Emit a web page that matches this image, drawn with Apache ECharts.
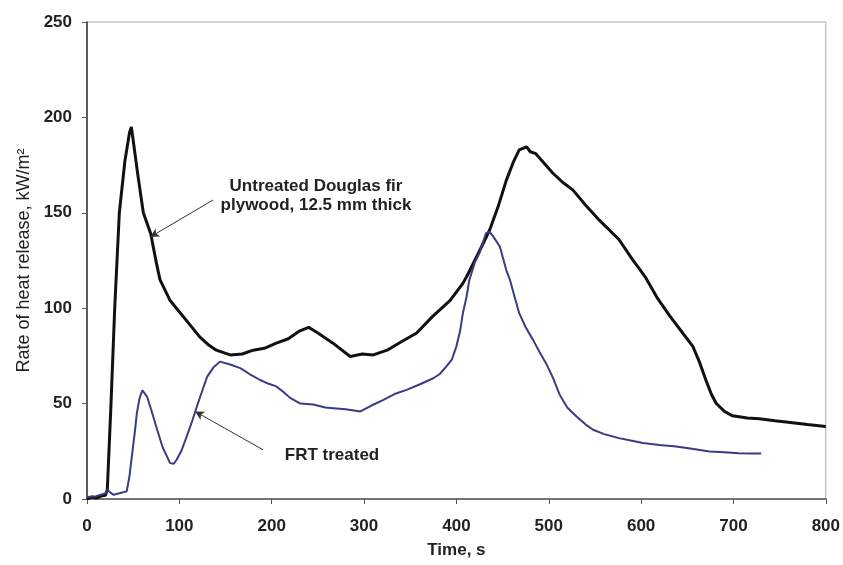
<!DOCTYPE html>
<html>
<head>
<meta charset="utf-8">
<script src="https://cdn.jsdelivr.net/npm/echarts@6/dist/echarts.min.js"></script>
<style>
  html, body { margin: 0; padding: 0; background: #fff; }
  #main { width: 843px; height: 565px; }
</style>
</head>
<body>
<div id="main"></div>
<script>
// Untreated Douglas fir plywood, 12.5 mm thick
var untreatedTime = [0, 5, 10, 15, 20, 22, 26, 30, 35, 41, 46, 48, 50, 55, 61, 69, 75, 79, 90, 101, 112, 122, 131, 140, 155, 168, 180, 192, 205, 218, 230, 240, 250, 266, 285, 298, 310, 325, 339, 357, 374, 393, 407, 411, 423, 436, 445, 454, 462, 468, 476, 480, 486, 495, 504, 515, 526, 540, 555, 576, 590, 605, 618, 631, 645, 656, 663, 670, 676, 681, 690, 699, 715, 728, 745, 764, 780, 800];
var untreatedHrr = [0, 1, 0.5, 1.5, 2, 5, 50, 100, 150, 177, 192, 195, 188, 170, 150, 139, 124, 115, 104, 97.5, 91, 85, 81, 78, 75.5, 76, 78, 79, 81.7, 84, 88, 90, 87, 81.8, 74.7, 76, 75.5, 78, 82, 87, 95.6, 104, 113, 116.5, 128, 141, 153, 167, 177, 183, 184.6, 182, 181, 176, 171, 166, 162, 154, 146, 136, 126, 116, 105, 96, 87, 80, 72, 62.5, 55, 50.3, 46, 43.6, 42.5, 42, 41, 40, 39, 38];

// FRT treated
var frtTime = [0, 10, 20, 22, 25, 29, 35, 43, 46, 49, 52, 54, 57, 60, 62, 65, 70, 76, 82, 90, 94, 97, 102, 108, 114, 119, 125, 130, 137, 144, 155, 166, 176, 187, 196, 205, 213, 220, 231, 245, 258, 267, 280, 296, 308, 321, 333, 346, 360, 375, 382, 389, 395, 400, 404, 407, 411, 414, 420, 425, 432, 436, 440, 447, 454, 458, 463, 468, 475, 483, 490, 497, 505, 512, 520, 530, 540, 548, 560, 576, 590, 602, 620, 638, 655, 674, 690, 706, 718, 730];
var frtHrr = [1, 1.5, 3, 5, 3.5, 2.2, 3, 4, 12, 24, 36, 45, 53, 57, 56, 53.7, 46, 36.3, 27, 18.8, 18.5, 20.6, 25, 32.8, 41, 48.5, 57, 64, 69, 72, 70.5, 68.6, 65.5, 62.5, 60.5, 59, 56, 53, 50, 49.5, 48, 47.6, 47, 45.9, 49, 52, 55, 57.2, 60, 63.3, 65.5, 69.4, 73, 80, 88, 97.4, 106, 114.8, 124, 129, 139.3, 140, 137.5, 132.3, 120, 114.8, 106, 97.4, 90, 83.4, 77, 71.2, 63, 54.5, 48, 43.2, 39, 36.3, 34, 31.9, 30.5, 29.3, 28.3, 27.5, 26.3, 24.9, 24.5, 24, 23.8, 23.8];

var xTicks = { min: 0, max: 800, step: 100 };
var yTicks = { min: 0, max: 250, step: 50 };

// annotation arrows (data coordinates: from, to)
var untreatedArrow = [[136.5, 156.7], [68.4, 137.3]];
var frtArrow = [[190.6, 25.8], [117, 45.9]];

function zip(a, b) {
  var out = [];
  for (var i = 0; i < a.length; i++) out.push([a[i], b[i]]);
  return out;
}

var font = 'Arial, "Liberation Sans", sans-serif';
var myChart = echarts.init(document.getElementById('main'));
myChart.setOption({
  animation: false,
  backgroundColor: '#fff',
  grid: {
    left: 87, right: 16, top: 22, bottom: 66,
    show: true, borderColor: '#a8a8a8', borderWidth: 1
  },
  xAxis: {
    type: 'value',
    min: xTicks.min, max: xTicks.max, interval: xTicks.step,
    name: 'Time, s',
    nameLocation: 'middle',
    nameGap: 43,
    nameTextStyle: { fontFamily: font, fontWeight: 'bold', fontSize: 17, color: '#222' },
    axisLine: { lineStyle: { color: '#555', width: 1.5 } },
    axisTick: { show: true, inside: false, length: 5, lineStyle: { color: '#555' } },
    axisLabel: { margin: 19, fontFamily: font, fontWeight: 'bold', fontSize: 17, color: '#222' },
    splitLine: { show: false }
  },
  yAxis: {
    type: 'value',
    min: yTicks.min, max: yTicks.max, interval: yTicks.step,
    name: 'Rate of heat release, kW/m²',
    nameLocation: 'middle',
    nameGap: 53,
    nameTextStyle: { fontFamily: font, fontSize: 18, color: '#222' },
    axisLine: { show: true, lineStyle: { color: '#333', width: 1.5 } },
    axisTick: { show: true, inside: false, length: 5, lineStyle: { color: '#555' } },
    axisLabel: { margin: 15, fontFamily: font, fontWeight: 'bold', fontSize: 17, color: '#222' },
    splitLine: { show: false }
  },
  series: [
    {
      name: 'Untreated Douglas fir plywood, 12.5 mm thick',
      type: 'line',
      data: zip(untreatedTime, untreatedHrr),
      showSymbol: false,
      lineStyle: { color: '#111', width: 3 },
      itemStyle: { color: '#111' },
      markLine: {
        silent: true,
        symbol: ['none', 'arrow'],
        symbolSize: [7, 9],
        label: { show: false },
        lineStyle: { color: '#333', width: 1, type: 'solid' },
        data: [[{ coord: untreatedArrow[0] }, { coord: untreatedArrow[1] }]]
      }
    },
    {
      name: 'FRT treated',
      type: 'line',
      data: zip(frtTime, frtHrr),
      showSymbol: false,
      lineStyle: { color: '#3b3b85', width: 2 },
      itemStyle: { color: '#3b3b85' },
      markLine: {
        silent: true,
        symbol: ['none', 'arrow'],
        symbolSize: [7, 9],
        label: { show: false },
        lineStyle: { color: '#333', width: 1, type: 'solid' },
        data: [[{ coord: frtArrow[0] }, { coord: frtArrow[1] }]]
      }
    }
  ],
  graphic: [
    {
      type: 'text',
      style: {
        x: 316, y: 196,
        text: 'Untreated Douglas fir\nplywood, 12.5 mm thick',
        align: 'center', verticalAlign: 'middle', lineHeight: 19,
        font: 'bold 17px ' + font, fill: '#222'
      }
    },
    {
      type: 'text',
      style: {
        x: 332, y: 455, text: 'FRT treated',
        align: 'center', verticalAlign: 'middle',
        font: 'bold 17px ' + font, fill: '#222'
      }
    }
  ]
});
</script>
</body>
</html>
